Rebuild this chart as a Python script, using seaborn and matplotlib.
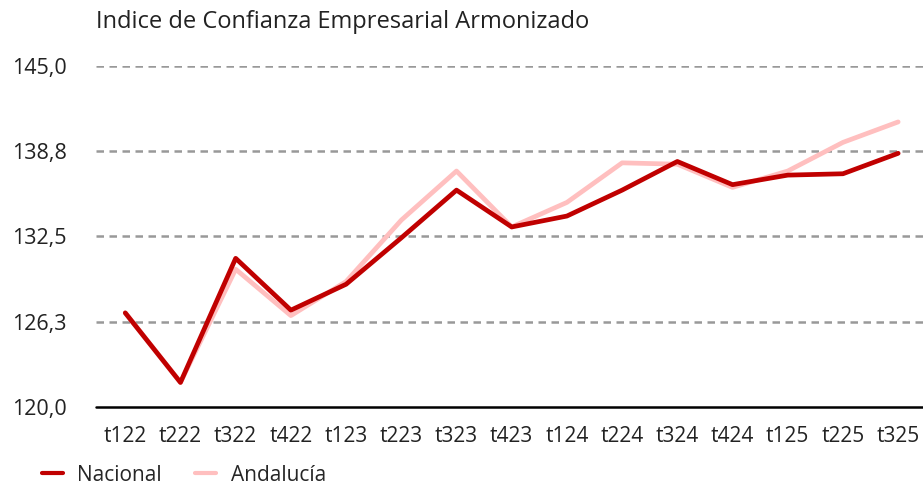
import numpy as np
import pandas as pd
import seaborn as sns
import matplotlib.pyplot as plt
from matplotlib.ticker import FuncFormatter
from matplotlib.lines import Line2D

quarters = ["t122", "t222", "t322", "t422", "t123", "t223", "t323", "t423",
            "t124", "t224", "t324", "t424", "t125", "t225", "t325"]
nacional = [126.9, 121.8, 130.9, 127.1, 129.0, 132.4, 135.9, 133.2,
            134.0, 135.9, 138.0, 136.3, 137.0, 137.1, 138.6]
andalucia = [126.9, 121.8, 130.1, 126.7, 129.2, 133.7, 137.3, 133.2,
             135.0, 137.9, 137.8, 136.1, 137.3, 139.4, 140.9]
y_ticks = [120.0, 126.25, 132.5, 138.75, 145.0]

RED = "#C00000"
PINK = "#FFBFBF"

sns.set_theme(style="white")
plt.rcParams["font.family"] = ["Open Sans", "DejaVu Sans"]


def fmt_es(v, pos):
    # round half up, Spanish decimal comma
    r = np.floor(v * 10 + 0.5) / 10
    return f"{r:.1f}".replace(".", ",")


df = pd.DataFrame({
    "periodo": quarters * 2,
    "valor": nacional + andalucia,
    "serie": ["Nacional"] * len(quarters) + ["Andalucía"] * len(quarters),
})

fig = plt.figure(figsize=(9.23, 4.86), dpi=100)
ax = fig.add_axes([96 / 923, 1 - 407 / 486, (923 - 96) / 923, (407 - 66) / 486])

sns.lineplot(data=df[df["serie"] == "Andalucía"], x="periodo", y="valor",
             color=PINK, linewidth=3.4, ax=ax, zorder=3, sort=False)
sns.lineplot(data=df[df["serie"] == "Nacional"], x="periodo", y="valor",
             color=RED, linewidth=3.4, ax=ax, zorder=4, sort=False)

ax.set_ylim(120, 145)
ax.set_xlim(-0.53, len(quarters) - 0.55)
ax.set_yticks(y_ticks)
ax.yaxis.set_major_formatter(FuncFormatter(fmt_es))
for t in y_ticks[1:]:
    ax.axhline(t, color="#999999", linestyle=(0, (3, 2.2)), linewidth=1.8, zorder=1)
ax.axhline(120, color="black", linewidth=1.8, zorder=5, clip_on=False)

for s in ax.spines.values():
    s.set_visible(False)
ax.tick_params(axis="y", length=0, pad=21, labelsize=15.5, labelcolor="#222222")
ax.tick_params(axis="x", length=0, pad=14, labelsize=15, labelcolor="#222222")
ax.set_xlabel("")
ax.set_ylabel("")

fig.text(96 / 923, 1 - 22 / 486, "Indice de Confianza Empresarial Armonizado",
         fontsize=17, color="#222222", va="center", ha="left")

handles = [Line2D([0], [0], color=RED, linewidth=3),
           Line2D([0], [0], color=PINK, linewidth=3)]
fig.legend(handles, ["Nacional", "Andalucía"], loc="center left",
           bbox_to_anchor=(42 / 923, 1 - 475 / 486), ncol=2, frameon=False,
           fontsize=15, handlelength=1.0, columnspacing=1.6, handletextpad=0.7,
           borderaxespad=0, borderpad=0)

fig.savefig("out.png", dpi=100)
